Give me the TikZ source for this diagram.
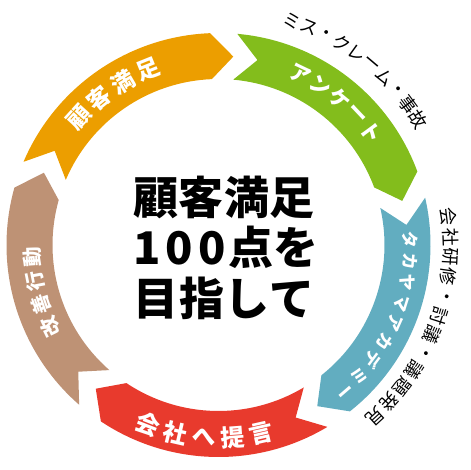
\documentclass[tikz,border=0pt]{standalone}
\usepackage{fontspec}
\setmainfont{Noto Sans CJK JP}
\definecolor{cOrange}{RGB}{236,158,0}
\definecolor{cGreen}{RGB}{131,189,28}
\definecolor{cBlue}{RGB}{98,173,192}
\definecolor{cRed}{RGB}{232,58,45}
\definecolor{cBrown}{RGB}{190,146,117}
\tikzset{
  segtxt/.style={text=white, inner sep=0pt, font=\bfseries\fontsize{#1}{#1}\selectfont},
  outtxt/.style={text=black, inner sep=0pt, font=\fontsize{#1}{#1}\selectfont},
  ctrtxt/.style={text=black, inner sep=0pt, font=\bfseries\fontsize{45}{45}\selectfont}
}
% ring segment: #1 tail angle, #2 colour
\newcommand{\ringseg}[2]{%
  \pgfmathsetmacro\rsT{#1}%
  \pgfmathsetmacro\rsH{#1-64.6}%
  \pgfmathsetmacro\rsHT{\rsH-6.8}%
  \pgfmathsetmacro\rsTN{\rsT-6.8}%
  \fill[#2] (\rsT:212) arc[start angle=\rsT, end angle=\rsH, radius=212]
    -- (\rsHT:189) -- (\rsH:166) arc[start angle=\rsH, end angle=\rsT, radius=166]
    -- (\rsTN:189) -- cycle;}
% clockwise text: #1 chars, #2 count, #3 centre angle, #4 step, #5 radius, #6 style
\newcommand{\cwtext}[6]{%
  \foreach \ch [count=\ci from 0] in {#1} {%
    \pgfmathsetmacro\cang{#3+(#2-1)/2*#4-\ci*#4}%
    \node[#6, rotate=\cang-90] at (\cang:#5) {\ch};
  }}
% counter-clockwise text (bottom)
\newcommand{\ccwtext}[6]{%
  \foreach \ch [count=\ci from 0] in {#1} {%
    \pgfmathsetmacro\cang{#3-(#2-1)/2*#4+\ci*#4}%
    \node[#6, rotate=\cang+90] at (\cang:#5) {\ch};
  }}
\begin{document}
\begin{tikzpicture}[x=1pt,y=1pt]
\useasboundingbox (-218.5,-225) rectangle (251.5,245);
\ringseg{156.9}{cOrange}
\ringseg{84.9}{cGreen}
\ringseg{12.9}{cBlue}
\ringseg{-59.1}{cRed}
\ringseg{-131.1}{cBrown}
\cwtext{顧,客,満,足}{4}{124.8}{8.6}{189}{segtxt=23}
\cwtext{ア,ン,ケ,ー,ト}{5}{50.4}{7.0}{189.5}{segtxt=21}
\cwtext{タ,カ,ヤ,マ,ア,カ,デ,ミ,ー}{9}{-23.9}{6.35}{192}{segtxt=17}
\ccwtext{会,社,へ,提,言}{5}{-94.3}{8.55}{193}{segtxt=24}
\cwtext{改,善,行,動}{4}{194.9}{7.4}{187}{segtxt=20}
\cwtext{ミ,ス,・,ク,レ,ー,ム,・,事,故}{10}{52}{4.43}{236}{outtxt=18}
\cwtext{会,社,研,修,・,討,議,・,議,題,発,見}{12}{-20.25}{4.95}{232}{outtxt=18}
\node[ctrtxt] (l1) at (5.5,48) {\makebox[182pt]{顧\hfill 客\hfill 満\hfill 足}};
\node[ctrtxt] (l2) at (7.5,-2) {1\kern5pt 0\kern5pt 0\kern3pt 点を};
\node[ctrtxt] (l3) at (5.5,-53) {\makebox[178pt]{目\hfill 指\hfill し\hfill て}};
\end{tikzpicture}
\end{document}
